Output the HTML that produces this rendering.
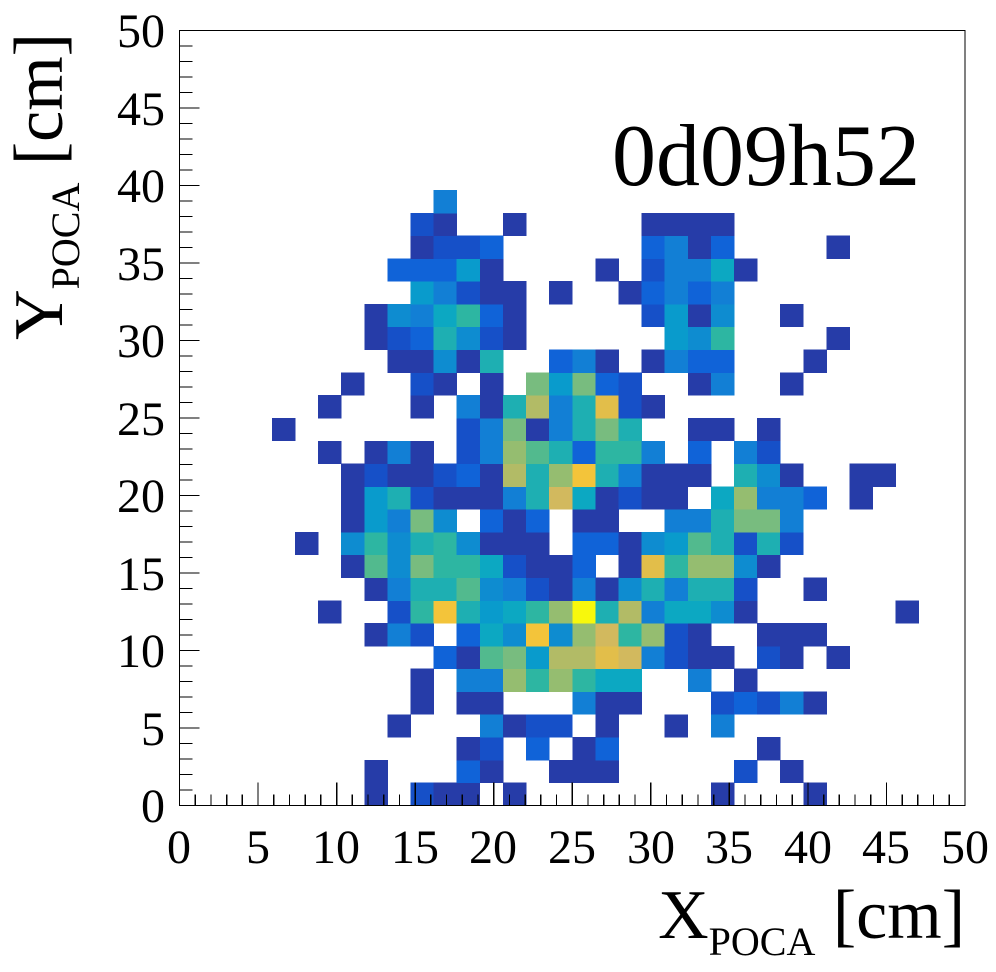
<!DOCTYPE html>
<html><head><meta charset="utf-8"><style>
html,body{margin:0;padding:0;background:#fff;}
svg{display:block;}
</style></head><body>
<svg id="s" width="996" height="972" viewBox="0 0 996 972" xmlns="http://www.w3.org/2000/svg" font-family="'Liberation Serif', 'DejaVu Serif', serif">
<g id="cells" shape-rendering="crispEdges"></g>
<g id="ticks" stroke="#000" stroke-width="1.3" shape-rendering="crispEdges"></g>
<rect x="179.5" y="30.5" width="785.5" height="775" fill="none" stroke="#000" stroke-width="1.4" shape-rendering="crispEdges"/>
<g font-size="48" text-anchor="middle" font-family="'Liberation Serif', serif">
<text x="179" y="863">0</text><text x="258" y="863">5</text><text x="336" y="863">10</text><text x="415" y="863">15</text><text x="493" y="863">20</text><text x="572" y="863">25</text><text x="651" y="863">30</text><text x="729" y="863">35</text><text x="808" y="863">40</text><text x="886" y="863">45</text><text x="965" y="863">50</text>
</g>
<g font-size="48" text-anchor="end" font-family="'Liberation Serif', serif">
<text x="165" y="822">0</text><text x="165" y="745">5</text><text x="165" y="667">10</text><text x="165" y="590">15</text><text x="165" y="512">20</text><text x="165" y="435">25</text><text x="165" y="357">30</text><text x="165" y="280">35</text><text x="165" y="202">40</text><text x="165" y="125">45</text><text x="165" y="47">50</text>
</g>
<text x="965" y="938" font-size="70" text-anchor="end" font-family="'Liberation Serif', serif">X<tspan font-size="40" dy="17">POCA</tspan><tspan dy="-17"> [cm]</tspan></text>
<text transform="translate(62,33) rotate(-90)" font-size="70" text-anchor="end" font-family="'Liberation Serif', serif">Y<tspan font-size="40" dy="17">POCA</tspan><tspan dy="-17"> [cm]</tspan></text>
<text x="612" y="185" font-size="88" font-family="'Liberation Serif', serif">0d09h52</text>
</svg>
<script>
var P={D:"#263ca8",B:"#1650c8",b:"#1063d8",M:"#127fd5",m:"#0e8cd0",C:"#099bcc",c:"#0ca8c2",T:"#1eafb2",t:"#2db6a2",G:"#52ba8e",g:"#78bc7f",L:"#95bd70",O:"#b2bb66",K:"#d2b95e",Y:"#e2be4a",y:"#f3c43a",Z:"#f8f80c"};
var R={
26:"11M",
25:"10B 11D 14D 20D 21D 22D 23D",
24:"10D 11B 12B 13b 20b 21M 22D 23b 28D",
23:"9b 10b 11b 12C 13D 18D 20B 21M 22M 23c 24D",
22:"10C 11M 12B 13D 14D 16D 19D 20b 21M 22b 23M",
21:"8D 9m 10M 11c 12t 13b 14D 20B 21C 22D 23m 26D",
20:"8D 9B 10b 11T 12m 13B 14D 21C 22m 23t 28D",
19:"9D 10D 11m 12D 13T 16b 17M 18D 20D 21M 22b 23b 27D",
18:"7D 10B 11D 13D 15g 16C 17g 18b 19B 22D 23M 26D",
17:"6D 10D 12M 13D 14T 15O 16M 17T 18Y 19B 20D",
16:"4D 12B 13M 14g 15D 16M 17T 18g 19T 22D 23D 25D",
15:"6D 8D 9M 10D 12B 13M 14L 15G 16T 17b 18t 19t 20M 22b 24M 25B",
14:"7D 8B 9D 10D 11B 12b 13D 14O 15T 16L 17y 18T 19M 20D 21D 22D 24T 25m 26D 29D 30D",
13:"7D 8C 9T 10B 11D 12D 13D 14M 15T 16K 17c 18D 19B 20D 21D 23c 24L 25M 26M 27b 29D",
12:"7D 8C 9M 10g 11m 13b 14D 15b 17D 18D 21M 22M 23T 24g 25g 26M",
11:"5D 7m 8t 9m 10T 11t 12m 13D 14D 15D 17b 18b 19D 20m 21C 22G 23T 24B 25T 26B",
10:"7D 8G 9m 10g 11t 12t 13c 14B 15D 16D 17b 19D 20Y 21t 22L 23L 24m 25D",
9:"8D 9M 10T 11T 12G 13m 14M 15B 16D 17M 18D 19m 20T 21M 22T 23T 24B 27D",
8:"6D 9B 10t 11y 12T 13C 14c 15t 16L 17Z 18T 19O 20M 21c 22c 23m 24D 31D",
7:"8D 9M 10B 12b 13c 14m 15y 16m 17L 18K 19t 20L 21B 22D 25D 26D 27D",
6:"11b 12D 13G 14g 15C 16O 17O 18Y 19K 20M 21B 22D 23D 25B 26D 28D",
5:"10D 12M 13M 14L 15t 16L 17t 18c 19c 22M 24D",
4:"10D 12D 13D 17M 18D 19D 23B 24b 25B 26M 27D",
3:"9D 13M 14D 15B 16B 18D 21D 23M",
2:"12D 13B 15b 17D 18b 25D",
1:"8D 12b 13D 16D 17D 18D 24B 26D",
0:"8D 10B 11D 12D 14D 23D 27D"};
var g=document.getElementById("cells"),h="";
var W=785.5/34,H=775/34;
for(var j in R){R[j].split(" ").forEach(function(t){var c=parseInt(t),k=t.slice(-1);
var x0=179.5+c*W,x1=179.5+(c+1)*W,y1=805.5-j*H,y0=805.5-(+j+1)*H;
h+='<rect x="'+x0.toFixed(2)+'" y="'+y0.toFixed(2)+'" width="'+(x1-x0+0.4).toFixed(2)+'" height="'+(y1-y0+0.4).toFixed(2)+'" fill="'+P[k]+'"/>';});}
g.innerHTML=h;
var tk="";
for(var i=1;i<50;i++){var x=179.5+i*785.5/50,L=(i%5==0)?23:11;tk+='<line x1="'+x.toFixed(2)+'" y1="805.5" x2="'+x.toFixed(2)+'" y2="'+(805.5-L)+'"/>';
var y=805.5-i*775/50,L2=(i%5==0)?20:13;tk+='<line x1="179.5" y1="'+y.toFixed(2)+'" x2="'+(179.5+L2)+'" y2="'+y.toFixed(2)+'"/>';}
document.getElementById("ticks").innerHTML=tk;
</script>
</body></html>
